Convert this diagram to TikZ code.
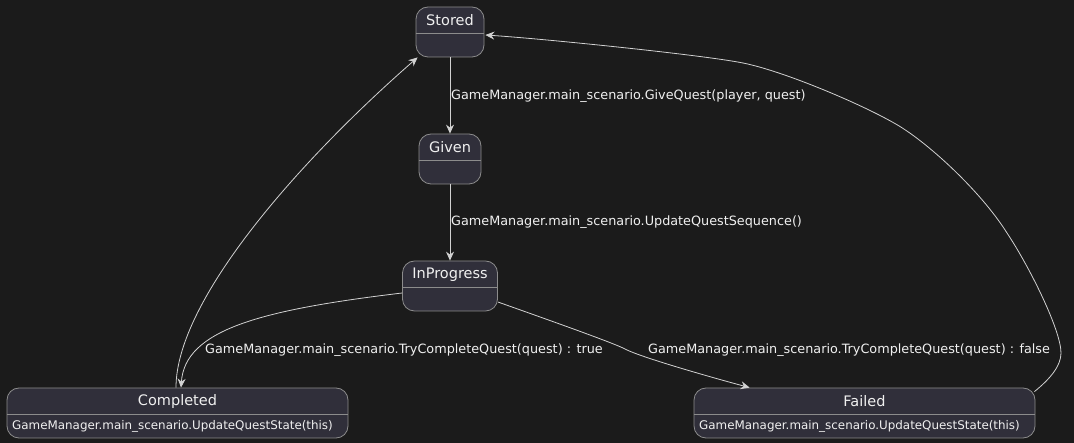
\documentclass[tikz,border=0pt]{standalone}
\usepackage{fontspec}
\setmainfont{DejaVu Sans}
\usetikzlibrary{arrows.meta,calc}
\definecolor{bg}{RGB}{27,27,27}
\definecolor{nodefill}{RGB}{48,47,58}
\definecolor{nodeborder}{RGB}{140,140,140}
\definecolor{edgecol}{RGB}{210,210,210}
\definecolor{txt}{RGB}{240,240,240}
\begin{document}
\begin{tikzpicture}[x=1pt,y=-1pt,
 statebox/.style={draw=nodeborder, fill=nodefill, rounded corners=12pt, line width=0.8pt, inner sep=0pt},
 titletext/.style={text=txt, font=\fontsize{14.5}{17}\selectfont, inner sep=0pt},
 bodytext/.style={text=txt, font=\fontsize{11.9}{14}\selectfont, inner sep=0pt, anchor=west},
 lbl/.style={text=txt, font=\fontsize{12.8}{15}\selectfont, inner sep=0pt, anchor=west},
 arr/.style={draw=edgecol, line width=0.8pt, -{Stealth[length=9pt,width=8pt,inset=3pt,fill=edgecol]}},
 sep/.style={draw=nodeborder, line width=0.8pt}]
\fill[bg] (0,0) rectangle (1074,443);
\useasboundingbox (0,0) rectangle (1074,443);

% states
\node[statebox, minimum width=68pt, minimum height=50pt] (stored) at (450,32) {};
\node[statebox, minimum width=62pt, minimum height=50pt] (given) at (450,159) {};
\node[statebox, minimum width=95pt, minimum height=50pt] (inprogress) at (450,286) {};
\node[statebox, minimum width=341pt, minimum height=50pt] (completed) at (177.5,413) {};
\node[statebox, minimum width=341pt, minimum height=50pt] (failed) at (864.5,413) {};

\draw[sep] (stored.west |- 0,33) -- (stored.east |- 0,33);
\draw[sep] (given.west |- 0,160) -- (given.east |- 0,160);
\draw[sep] (inprogress.west |- 0,287.5) -- (inprogress.east |- 0,287.5);
\draw[sep] (completed.west |- 0,414) -- (completed.east |- 0,414);
\draw[sep] (failed.west |- 0,414) -- (failed.east |- 0,414);

\node[titletext] (stored-t) at (450,20.5) {Stored};
\node[titletext] (given-t) at (450,147.5) {Given};
\node[titletext] (inprogress-t) at (450,274.5) {InProgress};
\node[titletext] (completed-t) at (177.5,401.5) {Completed};
\node[titletext] (failed-t) at (864.5,401.5) {Failed};

\node[bodytext] (completed-b) at (12,426) {GameManager.main\_scenario.UpdateQuestState(this)};
\node[bodytext] (failed-b) at (699,426) {GameManager.main\_scenario.UpdateQuestState(this)};

% labels
\node[lbl] (l1) at (451,96) {GameManager.main\_scenario.GiveQuest(player, quest)};
\node[lbl] (l2) at (451,222.5) {GameManager.main\_scenario.UpdateQuestSequence()};
\node[lbl] (l3) at (205,350) {GameManager.main\_scenario.TryCompleteQuest(quest) : true};
\node[lbl] (l4) at (648,350) {GameManager.main\_scenario.TryCompleteQuest(quest) : false};

% transitions
\draw[arr] (stored) -- (given);
\draw[arr] (given) -- (inprogress);
\draw[arr] ($(inprogress.west)+(0,7)$) .. controls (260,310) and (185,330) .. ($(completed.north)+(3.5,0)$);
\draw[arr] ($(inprogress.east)+(0,16)$) .. controls (560,324) and (615,343.6) .. (625,349) .. controls (640,357) and (710,377) .. ($(failed.north west)+(56,0)$);
\draw[arr] ($(completed.north)+(-1.5,0)$) .. controls (176,300) and (300,160) .. ($(stored.south west)+(2,0)$);
\draw[arr] ($(failed.north east)+(-1,4)$) .. controls (1050,379) and (1061,366) .. (1061,353)
  .. controls (1061,330) and (1029,266) .. (1007,233)
  .. controls (980,190) and (925,140) .. (894,123)
  .. controls (859,103) and (783,71) .. (743,63)
  .. controls (703,55) and (546,39) .. ($(stored.east)+(1,3)$);
\end{tikzpicture}
\end{document}
